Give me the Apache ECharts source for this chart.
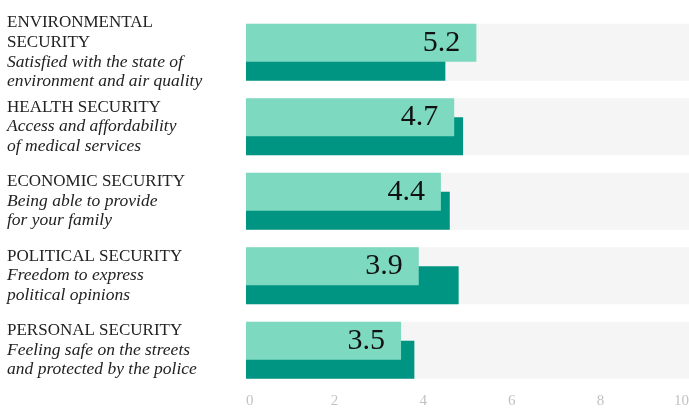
<!DOCTYPE html>
<html>
<head>
<meta charset="utf-8">
<script src="https://cdn.jsdelivr.net/npm/echarts@6/dist/echarts.min.js"></script>
<style>
  html, body { margin: 0; padding: 0; background: #fff; }
  #security_bars { width: 689px; height: 410px; }
</style>
</head>
<body>
<div id="security_bars"></div>
<script>
// security perception bars - light = labelled score, dark = second score behind it

var titles = [
    ['ENVIRONMENTAL', 'SECURITY'],
    ['HEALTH SECURITY'],
    ['ECONOMIC SECURITY'],
    ['POLITICAL SECURITY'],
    ['PERSONAL SECURITY']
];
var subtitles = [
    ['Satisfied with the state of', 'environment and air quality'],
    ['Access and affordability', 'of medical services'],
    ['Being able to provide', 'for your family'],
    ['Freedom to express', 'political opinions'],
    ['Feeling safe on the streets', 'and protected by the police']
];
var categories = ['Environmental', 'Health', 'Economic', 'Political', 'Personal'];
var scoreValues = [5.2, 4.7, 4.4, 3.9, 3.5];
var otherValues = [4.5, 4.9, 4.6, 4.8, 3.8];
var fullValues = [10, 10, 10, 10, 10];
var tickLabels = ['0', '2', '4', '6', '8', '10'];

var serif = '"Liberation Serif", "DejaVu Serif", serif';

var option = {
    animation: false,
    grid: {
        left: 246,
        right: 0,
        top: 15,
        height: 372.5,
        outerBoundsMode: 'none'
    },
    xAxis: {
        type: 'value',
        min: 0,
        max: 10,
        interval: 2,
        axisLine: { show: false },
        axisTick: { show: false },
        splitLine: { show: false },
        axisLabel: {
            margin: 6,
            color: '#c2c2c2',
            fontFamily: serif,
            fontSize: 15,
            alignMinLabel: 'left',
            alignMaxLabel: 'right',
            formatter: function (v) {
                return tickLabels[Math.round(v / 2)];
            }
        }
    },
    yAxis: [
        {
            type: 'category',
            inverse: true,
            data: categories,
            axisLine: { show: false },
            axisTick: { show: false },
            axisLabel: {
                align: 'left',
                margin: 239,
                formatter: function (v, i) {
                    var lines = [];
                    titles[i].forEach(function (t) { lines.push('{t|' + t + '}'); });
                    subtitles[i].forEach(function (s) { lines.push('{s|' + s + '}'); });
                    return lines.join('\n');
                },
                rich: {
                    t: {
                        fontFamily: serif,
                        fontSize: 17,
                        color: '#222',
                        lineHeight: 19.5
                    },
                    s: {
                        fontFamily: serif,
                        fontStyle: 'italic',
                        fontSize: 17.5,
                        color: '#222',
                        lineHeight: 19.5
                    }
                }
            }
        },
        {
            type: 'category',
            inverse: true,
            data: categories,
            show: false
        }
    ],
    series: [
        {
            name: 'background',
            type: 'bar',
            yAxisIndex: 1,
            barWidth: 57,
            silent: true,
            z: 1,
            itemStyle: { color: '#f5f5f5' },
            data: fullValues
        },
        {
            name: 'score',
            type: 'bar',
            barWidth: 38,
            barGap: '-50%',
            z: 3,
            itemStyle: { color: '#7dd9bf' },
            label: {
                show: true,
                position: 'insideRight',
                distance: 16,
                color: '#111',
                fontFamily: serif,
                fontSize: 30
            },
            data: scoreValues
        },
        {
            name: 'other',
            type: 'bar',
            barWidth: 38,
            z: 2,
            itemStyle: { color: '#009482' },
            data: otherValues
        }
    ]
};

var myChart = echarts.init(document.getElementById('security_bars'));
myChart.setOption(option);
</script>
</body>
</html>
